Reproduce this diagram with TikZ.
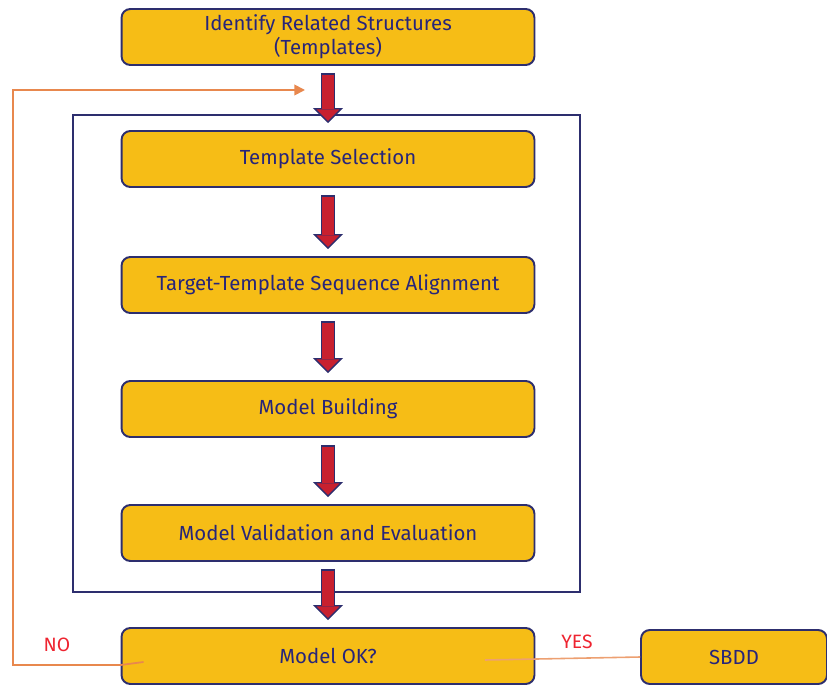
\documentclass[tikz,border=0pt]{standalone}
\usepackage{fontspec}
\setmainfont{Fira Sans}
\usetikzlibrary{arrows.meta}

\definecolor{boxgold}{HTML}{F6BD16}
\definecolor{navyline}{HTML}{2D2E6E}
\definecolor{navytext}{HTML}{27257A}
\definecolor{arrowred}{HTML}{C8202F}
\definecolor{loopline}{HTML}{E8884E}
\definecolor{labelred}{HTML}{EE2430}

\begin{document}
\begin{tikzpicture}[x=0.02cm, y=-0.02cm]
\useasboundingbox (0,0) rectangle (827,685);

% frame round the modelling loop
\node (loop) at (326.5, 353.5) [draw=navyline, line width=1.2pt, minimum width=10.14cm, minimum height=9.54cm] {};

\begin{scope}[every node/.style={rectangle, rounded corners=5pt, draw=navyline, line width=1.1pt, fill=boxgold, text=navytext, font=\fontsize{11.6}{13.5}\selectfont, align=center, minimum width=8.26cm, minimum height=1.12cm}]
    \node (identify) at (328, 37) {Identify Related Structures\\(Templates)};
    \node (selection) at (328, 159) {Template Selection};
    \node (alignment) at (328, 285) {Target-Template Sequence Alignment};
    \node (building) at (328, 409) {Model Building};
    \node (validation) at (328, 533) {Model Validation and Evaluation};

    \node (modelok) at (328, 656) {Model OK?};
    \node (sbdd) at (734, 657) [minimum width=3.72cm, minimum height=1.08cm] {SBDD};
\end{scope}

% big red arrows
\begin{scope}[rim/.style={draw=navyline, line width=8.5pt, shorten <=4pt, shorten >=4pt,
                  -{Triangle[width=17pt, length=8.5pt, line width=0.8pt, fill=arrowred]}},
              core/.style={draw=arrowred, line width=6.6pt, shorten <=4.9pt, shorten >=12pt}]
    \foreach \a/\b in {identify/selection, selection/alignment, alignment/building,
                       building/validation, validation/modelok} {
        \draw [rim] (\a) -- (\b);
        \draw [core] (\a) -- (\b);
    }
\end{scope}

% NO / YES branches
\coordinate (retcorner) at (13, 90);
\coordinate (retin) at (305, 90);
\draw [loopline, line width=1pt, -{Triangle[width=6pt, length=6pt]}]
    ([shift={(0.46cm,-0.12cm)}]modelok.west) -- ([yshift=-0.18cm]modelok.west) -| (retcorner) -- (retin);
\draw [loopline!80, line width=0.9pt] ([shift={(3.14cm,-0.08cm)}]modelok.center) -- (sbdd.west);

\begin{scope}[every node/.style={text=labelred, font=\fontsize{11}{13}\selectfont}]
    \node (no) at (57, 645) {NO};
    \node (yes) at (577, 642) {YES};
\end{scope}
\end{tikzpicture}
\end{document}
